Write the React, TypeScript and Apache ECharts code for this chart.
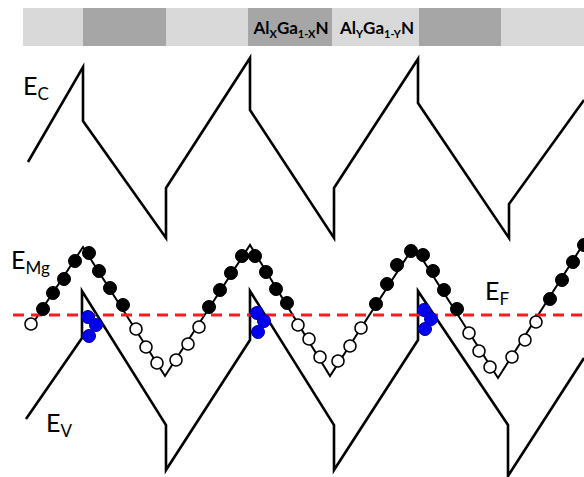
import React, { useEffect, useRef } from "react";
import * as echarts from "echarts";

// Position (a.u., left → right) and energy (a.u., axis inverted: small = top)
const layerStart = [23, 83, 166, 248, 332, 419, 501];
const layerEnd = [83, 166, 248, 332, 419, 501, 584];
const layerIsX = [0, 1, 0, 1, 0, 1, 0]; // 1 = AlXGa1-XN, 0 = AlYGa1-YN

const ecPoints = [
  [28, 162], [83, 67], [83, 121], [166, 238], [166, 188], [250, 58], [250, 110],
  [334, 238], [334, 188], [418, 59], [418, 103], [509, 238], [509, 204], [584, 100],
];
const evPoints = [
  [26, 419], [82, 338], [82, 291], [166, 425], [166, 470], [250, 340], [250, 291],
  [334, 425], [334, 470], [418, 340], [418, 291], [508, 425], [508, 476], [584, 358],
];
const emgPoints = [
  [31, 326], [83, 247], [165, 376], [250, 245], [330, 376], [414, 246], [498, 378], [584, 243],
];
const fermiLevel = 315;
const fermiRange = [13, 584];

const ionizedMg = [
  [43, 309], [53, 293], [64, 279], [75, 261],
  [89, 253], [99, 271], [110, 288], [123, 305],
  [209, 307], [220, 290], [231, 273], [242, 256],
  [255, 256], [266, 272], [276, 289], [287, 303],
  [376, 304], [387, 284], [397, 265], [411, 251],
  [423, 255], [433, 271], [444, 290], [457, 309],
  [550, 299], [562, 280], [573, 262], [584, 245],
];
const neutralMg = [
  [31, 324],
  [136, 329], [146, 347], [157, 363],
  [176, 360], [188, 344], [199, 327],
  [298, 325], [309, 339], [320, 357],
  [338, 361], [350, 346], [361, 328],
  [469, 333], [479, 351], [490, 367],
  [512, 357], [525, 340], [536, 322],
];
const holes = [
  [88, 317], [96, 325], [89, 336],
  [257, 313], [264, 321], [258, 332],
  [424, 310], [431, 319], [425, 329],
];

const FONT = 'Lato, "Noto Sans", sans-serif';

export default function App() {
  const ref = useRef<HTMLDivElement>(null);

  useEffect(() => {
    if (!ref.current) return;
    const chart = echarts.init(ref.current, undefined, { renderer: "svg" });

    const layerData = layerStart.map((s, i) => [s, layerEnd[i], layerIsX[i]]);

    const energyRich = {
      e: { fontSize: 25, lineHeight: 34, fontFamily: FONT, color: "#111" },
      s: { fontSize: 17, lineHeight: 15, verticalAlign: "bottom", fontFamily: FONT, color: "#111" },
    };
    const alloyRich = {
      b: { fontSize: 17, lineHeight: 24, fontWeight: "bold", fontFamily: FONT, color: "#1e1e1e" },
      s: { fontSize: 11, lineHeight: 10, fontWeight: "bold", verticalAlign: "bottom", fontFamily: FONT, color: "#1e1e1e" },
    };

    const energyLabel = (x: number, y: number, text: string) => ({
      type: "text",
      x,
      y,
      z: 100,
      style: { text, rich: energyRich, align: "left", verticalAlign: "middle" },
    });
    const alloyLabel = (x: number, y: number, text: string) => ({
      type: "text",
      x,
      y,
      z: 100,
      style: { text, rich: alloyRich, align: "center", verticalAlign: "middle" },
    });

    const option: any = {
      animation: false,
      grid: { left: 0, right: 0, top: 0, bottom: 0, containLabel: false },
      xAxis: { type: "value", min: 0, max: 584, show: false },
      yAxis: { type: "value", min: 0, max: 477, inverse: true, show: false },
      graphic: [
        alloyLabel(291, 27, "{b|Al}{s|X}{b|Ga}{s|1-X}{b|N}"),
        alloyLabel(377, 27, "{b|Al}{s|Y}{b|Ga}{s|1-Y}{b|N}"),
        energyLabel(23, 85, "{e|E}{s|C}"),
        energyLabel(11, 259, "{e|E}{s|Mg}"),
        energyLabel(46, 422, "{e|E}{s|V}"),
        energyLabel(485, 290, "{e|E}{s|F}"),
      ],
      series: [
        {
          type: "custom",
          silent: true,
          clip: false,
          data: layerData,
          renderItem: (params: any, api: any) => {
            const p0 = api.coord([api.value(0), 8]);
            const p1 = api.coord([api.value(1), 46]);
            return {
              type: "rect",
              shape: { x: p0[0], y: p0[1], width: p1[0] - p0[0], height: p1[1] - p0[1] },
              style: { fill: api.value(2) ? "#a6a6a6" : "#d9d9d9" },
            };
          },
          z: 1,
        },
        {
          type: "line",
          data: ecPoints,
          showSymbol: false,
          lineStyle: { color: "#000", width: 2.6, join: "miter", miterLimit: 10 },
          z: 2,
        },
        {
          type: "line",
          data: evPoints,
          showSymbol: false,
          lineStyle: { color: "#000", width: 2.6, join: "miter", miterLimit: 10 },
          z: 2,
        },
        {
          type: "line",
          data: emgPoints,
          showSymbol: false,
          lineStyle: { color: "#000", width: 2, join: "miter", miterLimit: 10 },
          z: 2,
        },
        {
          type: "line",
          data: [[fermiRange[0], fermiLevel], [fermiRange[1], fermiLevel]],
          showSymbol: false,
          lineStyle: { color: "#ff1a1a", width: 3, type: [11, 7] },
          z: 3,
        },
        {
          type: "scatter",
          data: ionizedMg,
          symbol: "circle",
          symbolSize: 13,
          itemStyle: { color: "#000", borderColor: "#000", borderWidth: 1, opacity: 1 },
          z: 4,
        },
        {
          type: "scatter",
          data: neutralMg,
          symbol: "circle",
          symbolSize: 12,
          itemStyle: { color: "#fff", borderColor: "#000", borderWidth: 1.5, opacity: 1 },
          z: 4,
        },
        {
          type: "scatter",
          data: holes,
          symbol: "circle",
          symbolSize: 13,
          itemStyle: { color: "#0000ee", borderColor: "#0000b0", borderWidth: 1, opacity: 1 },
          z: 5,
        },
      ],
    };

    chart.setOption(option);
    return () => chart.dispose();
  }, []);

  return (
    <div
      ref={ref}
      style={{ position: "fixed", left: 0, top: 0, width: 584, height: 477, background: "#fff" }}
    />
  );
}
